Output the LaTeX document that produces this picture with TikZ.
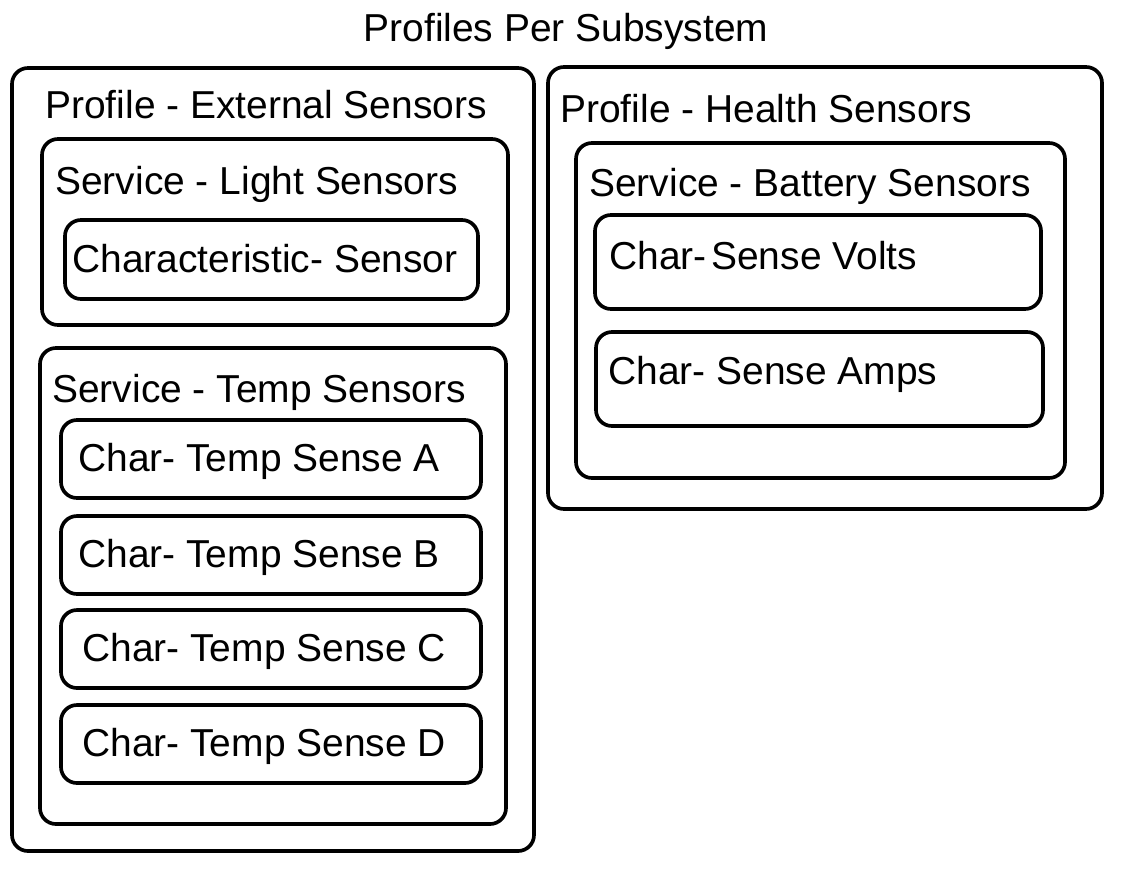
\documentclass[tikz,border=0pt]{standalone}
\usepackage{fontspec}
\setmainfont{Liberation Sans}
\usetikzlibrary{fit}

\begin{document}
\begin{tikzpicture}[x=0.025cm, y=-0.025cm]
  \tikzset{box/.style={draw, line width=2.6pt, rounded corners=0.4cm, inner sep=0pt},
    lbl/.style={anchor=base west, inner sep=0pt, font=\fontsize{27.7}{33}\selectfont}}
  \useasboundingbox (0,0) rectangle (1123,870);
  \node [lbl, anchor=base] (Title) at (566,41) {Profiles Per Subsystem};

  % left profile
  \node [box, fit={(12,68) (534,851)}] (ProfExt) {};
  \node [lbl] (ProfExtLbl) at (45,118) {Profile - External Sensors};
  \node [box, fit={(42,139) (508,325)}] (ServLight) {};
  \node [lbl] (ServLightLbl) at (55,194) {Service - Light Sensors};
  \node [box, fit={(65,220) (478,299)}] (CharSensor) {};
  \node [lbl] (CharSensorLbl) at (72,272) {Characteristic- Sensor};
  \node [box, fit={(40,348) (506,824)}] (ServTemp) {};
  \node [lbl] (ServTempLbl) at (52,402) {Service - Temp Sensors};
  \foreach \c/\y/\x in {A/420/78, B/516/78, C/610/82, D/705/82} {
    \node [box, fit={(61,\y) (481,\y+78)}] (Temp\c) {};
    \node [lbl] (Temp\c Lbl) at (\x,\y+51) {Char- Temp Sense \c};
  }

  % right profile
  \node [box, fit={(548,67) (1102,509)}] (ProfHealth) {};
  \node [lbl] (ProfHealthLbl) at (560,122) {Profile - Health Sensors};
  \node [box, fit={(576,143) (1065,478)}] (ServBatt) {};
  \node [lbl] (ServBattLbl) at (589,196) {Service - Battery Sensors};
  \node [box, fit={(595,215) (1041,309)}] (CharVolts) {};
  \node [lbl] (CharVoltsLbl) at (609,269) {Char-\hspace{0.12em}Sense Volts};
  \node [box, fit={(596,332) (1043,426)}] (CharAmps) {};
  \node [lbl] (CharAmpsLbl) at (608,384) {Char- Sense Amps};
\end{tikzpicture}
\end{document}
